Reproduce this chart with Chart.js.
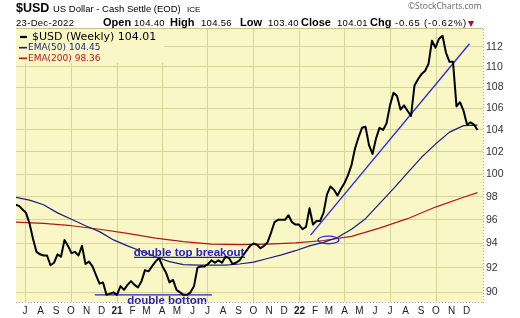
<!DOCTYPE html>
<html>
<head>
<meta charset="utf-8">
<script src="https://cdn.jsdelivr.net/npm/chart.js@4.4.0/dist/chart.umd.min.js"></script>
<style>
  body { margin: 0; background: #fff; width: 520px; height: 318px; overflow: hidden; position: relative; font-family: "Liberation Sans", Arial, sans-serif; }
  #wrap { position: absolute; left: 0; top: 0; width: 520px; height: 318px; }
  .t { position: absolute; white-space: nowrap; line-height: 1; color: #000; }
  .b { font-weight: bold; top: 16.8px; font-size: 11px; }
  .n { top: 18px; font-size: 9.5px; letter-spacing: 0.3px; }
  #tri { position: absolute; left: 468px; top: 20.5px; width: 0; height: 0; border-left: 3.5px solid transparent; border-right: 3.5px solid transparent; border-top: 6px solid #9a1030; }
</style>
</head>
<body>
<div id="wrap"><canvas id="myChart" width="520" height="318"></canvas></div>

<div class="t" style="left:16px;top:2px;font-size:12.5px;font-weight:bold">$USD</div>
<div class="t" style="left:53px;top:4.3px;font-size:9.5px">US Dollar - Cash Settle (EOD)</div>
<div class="t" style="left:187px;top:5.5px;font-size:8px">ICE</div>
<div class="t" style="left:408px;top:1.5px;font-size:8.5px;color:#666;font-family:'Open Sans',sans-serif">©StockCharts.com</div>

<div class="t n" style="left:16px">23-Dec-2022</div>
<div class="t b" style="left:103px">Open</div>
<div class="t n" style="left:134px">104.40</div>
<div class="t b" style="left:170px">High</div>
<div class="t n" style="left:201px">104.56</div>
<div class="t b" style="left:240px">Low</div>
<div class="t n" style="left:268px">103.40</div>
<div class="t b" style="left:301px">Close</div>
<div class="t n" style="left:337px">104.01</div>
<div class="t b" style="left:370px">Chg</div>
<div class="t n" style="left:395px;letter-spacing:0.8px">-0.65 (-0.62%)</div>
<div id="tri"></div>

<script>
// weekly closes, first bar = week of 12-Jun-2020, last bar = 23-Dec-2022
const firstWeek = Date.UTC(2020, 5, 12);
const usdWeekly = [
  97.3, 97.2, 96.9, 96.6, 95.7, 94.4, 93.3, 93.1, 93.0, 93.0,
  92.2, 92.4, 93.1, 92.9, 94.3, 93.8, 93.2, 93.3, 93.0, 93.8,
  92.3, 92.5, 92.1, 91.4, 90.7, 90.8, 89.8, 89.9, 90.0, 89.8,
  90.5, 90.2, 90.6, 90.9, 90.6, 90.4, 90.9, 91.8, 91.7, 92.1,
  92.5, 92.8, 92.1, 91.6, 90.8, 91.0, 90.2, 90.0, 89.8, 89.8,
  90.0, 90.5, 92.0, 92.1, 92.1, 92.3, 92.6, 92.4, 92.6, 92.4,
  92.9, 92.8, 92.3, 92.4, 92.6, 93.0, 93.4, 93.8, 94.0, 93.9,
  93.6, 93.8, 94.1, 94.9, 95.8, 96.0, 96.0, 96.0, 96.4, 95.8,
  95.6, 95.6, 95.2, 95.4, 97.0, 95.6, 95.9, 95.9, 96.6, 98.2,
  98.9, 98.6, 98.1, 98.7, 99.2, 99.9, 100.8, 102.3, 103.3, 104.2,
  104.3, 102.6, 101.8, 103.2, 104.2, 104.0, 104.6, 106.3, 107.5, 107.2,
  105.9, 106.3, 105.8, 105.3, 108.2, 108.8, 109.3, 109.6, 110.3, 112.6,
  111.9, 112.8, 113.1, 111.4, 110.5, 110.5, 106.2, 106.6, 105.8, 104.5,
  104.7, 104.5, 104.0
];

// moving averages read every 4th / 8th week (week index from firstWeek)
const ema50Weeks = [0, 4, 8, 12, 16, 20, 24, 28, 32, 36, 40, 44, 48, 52, 56, 60, 64,
  68, 72, 76, 80, 84, 88, 92, 96, 100, 104, 108, 112, 116, 120, 124, 128, 132];
const ema50 = [97.95, 97.7, 97.3, 96.6, 96.05, 95.5, 95.0, 94.3, 93.8, 93.35, 92.9, 92.5, 92.25, 92.2, 92.2, 92.2, 92.3,
  92.45, 92.75, 93.05, 93.4, 93.8, 94.1, 94.5, 95.2, 96.1, 97.4, 98.7, 100.1, 101.5, 102.7, 103.8, 104.4, 104.45];

const ema200Weeks = [0, 8, 16, 24, 32, 40, 48, 56, 64, 72, 80, 88, 96, 104, 112, 120, 128, 132];
const ema200 = [95.8, 95.7, 95.5, 95.2, 94.85, 94.45, 94.15, 93.95, 93.9, 93.95, 94.05, 94.25, 94.6, 95.3, 96.1, 97.1, 97.95, 98.36];

// hand drawn marks on the chart
const trendWeeks = [84.3, 129.7];
const trendValues = [94.7, 112.3];
const dblBottomWeeks = [22.7, 56.1];
const dblBottomValues = [89.8, 89.8];
const dblTopWeeks = [33.9, 65.6];
const dblTopValues = [92.85, 92.85];

const monthLabels = ['J', 'A', 'S', 'O', 'N', 'D', '21', 'F', 'M', 'A', 'M', 'J', 'J', 'A', 'S', 'O', 'N', 'D',
  '22', 'F', 'M', 'A', 'M', 'J', 'J', 'A', 'S', 'O', 'N', 'D'];
const priceTicks = [90, 92, 94, 96, 98, 100, 102, 104, 106, 108, 110, 112];

const DAY = 86400000;
const weekToX = w => (firstWeek + w * 7 * DAY - Date.UTC(2021, 0, 1)) / DAY;

const monthTicks = [];
for (let i = 0; i < monthLabels.length; i++) {
  monthTicks.push((Date.UTC(2020, 6 + i, 1) - Date.UTC(2021, 0, 1)) / DAY);
}

function pairs(weeks, values) {
  return values.map((v, i) => ({ x: weekToX(weeks[i]), y: v }));
}

const plotBg = '#faf7c6';
const gridCol = '#d8d39a';
const annBlue = '#2323bb';

const decor = {
  id: 'decor',
  beforeDraw(chart) {
    const a = chart.chartArea, c = chart.ctx;
    c.save();
    c.fillStyle = plotBg;
    c.fillRect(a.left, a.top, a.right - a.left, a.bottom - a.top);
    c.restore();
  },
  afterDatasetsDraw(chart) {
    const c = chart.ctx;
    const xs = chart.scales.x, ys = chart.scales.y;
    c.save();
    // golden cross ring
    c.strokeStyle = '#3030d0';
    c.lineWidth = 1.3;
    c.beginPath();
    c.ellipse(xs.getPixelForValue(weekToX(89.4)), ys.getPixelForValue(94.3), 10.5, 3.8, 0, 0, Math.PI * 2);
    c.stroke();
    c.fillStyle = annBlue;
    c.font = 'bold 11.5px "Liberation Sans", Arial, sans-serif';
    c.textBaseline = 'middle';
    c.fillText('double top breakout', xs.getPixelForValue(weekToX(33.8)), ys.getPixelForValue(93.2));
    c.fillText('double bottom', xs.getPixelForValue(weekToX(31.9)), ys.getPixelForValue(89.36));
    c.restore();
  },
  afterDraw(chart) {
    const a = chart.chartArea, c = chart.ctx;
    c.save();
    // header rule
    c.strokeStyle = '#c9c28a';
    c.lineWidth = 1;
    c.beginPath();
    c.moveTo(a.left, a.top - 0.5);
    c.lineTo(a.right, a.top - 0.5);
    c.stroke();
    // dotted axis edges
    c.strokeStyle = '#a8a8a8';
    c.setLineDash([1, 2]);
    c.beginPath();
    c.moveTo(a.right + 0.5, a.top);
    c.lineTo(a.right + 0.5, a.bottom + 1);
    c.moveTo(a.left, a.bottom + 0.5);
    c.lineTo(a.right, a.bottom + 0.5);
    c.stroke();
    c.setLineDash([]);
    // legend
    c.fillStyle = plotBg;
    c.fillRect(a.left, a.top, 148, 34);
    const rows = [
      { text: '$USD (Weekly) 104.01', col: '#000', font: '11px "DejaVu Sans", sans-serif', y: 37, x0: 20, x1: 27, tx: 32, w: 2.2 },
      { text: 'EMA(50) 104.45', col: '#1c1c80', font: '9px "DejaVu Sans", sans-serif', y: 47.7, x0: 19, x1: 27, tx: 28, w: 1.6 },
      { text: 'EMA(200) 98.36', col: '#b01818', font: '9px "DejaVu Sans", sans-serif', y: 58.3, x0: 19, x1: 27, tx: 28, w: 1.6 }
    ];
    c.textBaseline = 'middle';
    for (let r of rows) {
      c.strokeStyle = r.col;
      c.lineWidth = r.w;
      c.beginPath();
      c.moveTo(r.x0, r.y);
      c.lineTo(r.x1, r.y);
      c.stroke();
      c.fillStyle = r.col;
      c.font = r.font;
      c.fillText(r.text, r.tx, r.y);
    }
    c.restore();
  }
};

const datasets = [
  { label: '$USD (Weekly)', data: pairs(usdWeekly.map((v, i) => i), usdWeekly), borderColor: '#000', borderWidth: 2, order: 0 },
  { label: 'EMA(50)', data: pairs(ema50Weeks, ema50), borderColor: '#1c1c80', borderWidth: 1.2, order: 2 },
  { label: 'EMA(200)', data: pairs(ema200Weeks, ema200), borderColor: '#b01818', borderWidth: 1.2, order: 3 },
  { label: 'trend', data: pairs(trendWeeks, trendValues), borderColor: '#3030d8', borderWidth: 1.4, order: 1 },
  { label: 'double bottom', data: pairs(dblBottomWeeks, dblBottomValues), borderColor: annBlue, borderWidth: 1.4, order: 1 },
  { label: 'double top', data: pairs(dblTopWeeks, dblTopValues), borderColor: annBlue, borderWidth: 1.4, order: 1 }
];

const ctx = document.getElementById('myChart').getContext('2d');
const myChart = new Chart(ctx, {
  type: 'line',
  data: { datasets: datasets },
  options: {
    responsive: false,
    animation: false,
    parsing: false,
    layout: { padding: { left: 16, top: 29, right: 0, bottom: 0 } },
    elements: { point: { radius: 0 }, line: { tension: 0, borderJoinStyle: 'round', fill: false } },
    plugins: { legend: { display: false }, tooltip: { enabled: false } },
    scales: {
      x: {
        type: 'linear',
        min: -202,
        max: 732,
        afterBuildTicks: ax => { ax.ticks = monthTicks.map(v => ({ value: v })); },
        afterFit: ax => { ax.height = 16; },
        ticks: {
          autoSkip: false,
          maxRotation: 0,
          padding: 3,
          color: '#222',
          font: c => ({ family: '"Liberation Sans", Arial, sans-serif', size: 10, weight: /\d/.test(monthLabels[c.index] || '') ? 'bold' : 'normal' }),
          callback: (v, i) => monthLabels[i]
        },
        grid: { drawTicks: false, color: c => (c.index % 3 === 0 ? gridCol : 'rgba(0,0,0,0)') },
        border: { display: false }
      },
      y: {
        type: 'logarithmic',
        position: 'right',
        bounds: 'data',
        min: 89.23,
        max: 113.78,
        afterBuildTicks: ax => { ax.ticks = priceTicks.map(v => ({ value: v })); },
        afterFit: ax => { ax.width = 37; },
        ticks: {
          padding: 3,
          color: '#333',
          font: { family: '"Liberation Sans", Arial, sans-serif', size: 10.5 },
          callback: v => String(v)
        },
        grid: { drawTicks: false, color: gridCol },
        border: { display: false }
      }
    }
  },
  plugins: [decor]
});
</script>
</body>
</html>
